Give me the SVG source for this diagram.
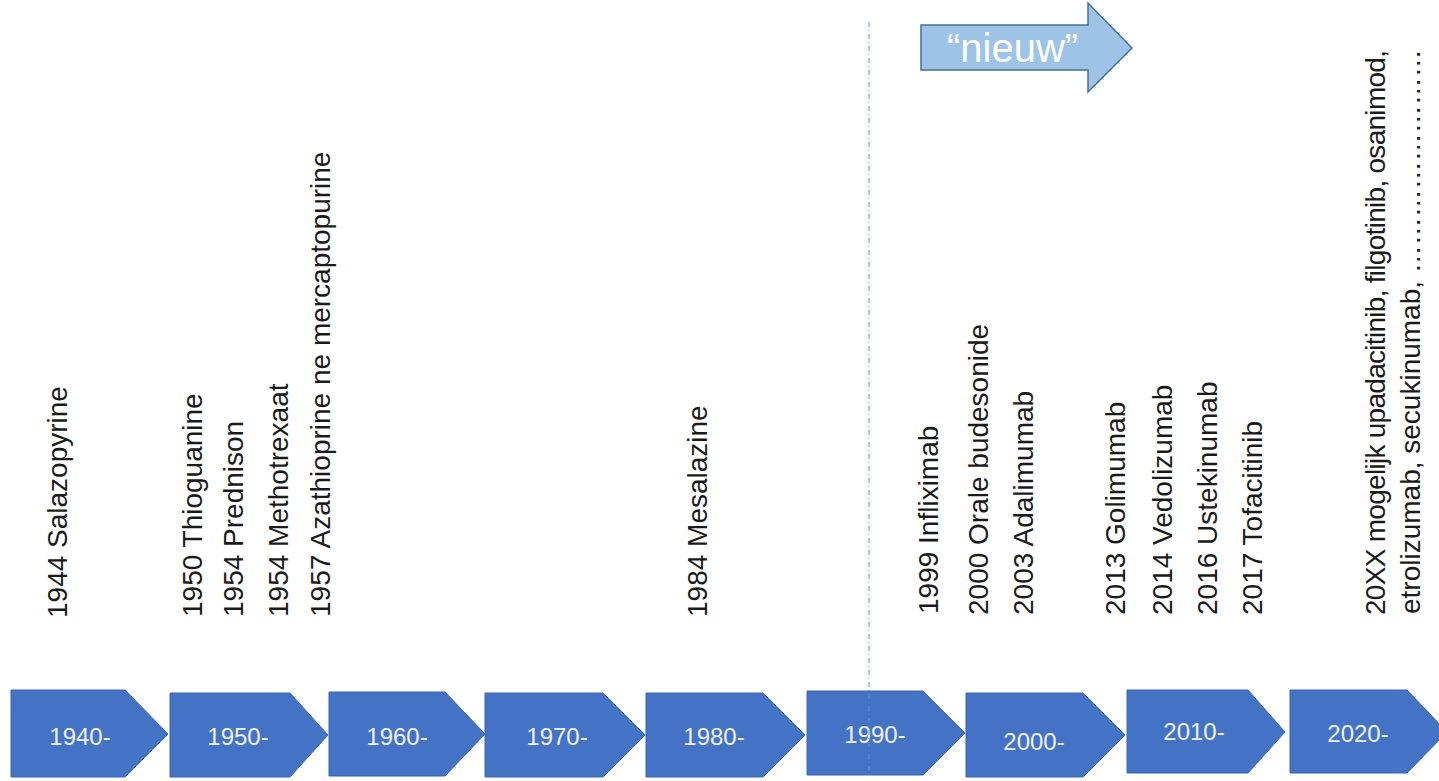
<svg xmlns="http://www.w3.org/2000/svg" width="1439" height="781" viewBox="0 0 1439 781">
<style>
.chev{fill:#4472C4;stroke:#3A64B0;stroke-width:1}
.ctext{font-family:"Liberation Sans",Arial,sans-serif;font-size:24px;fill:#EEF2FA;text-anchor:middle}
.vt{font-family:"Liberation Sans",Arial,sans-serif;font-size:28px;fill:#1a1a1a}
.arrow{fill:#9DC3E6;stroke:#41719C;stroke-width:1.5}
.atext{font-family:"Liberation Sans",Arial,sans-serif;font-size:40px;fill:#FFFFFF}
</style>
<rect width="1439" height="781" fill="#FFFFFF"/>
<g id="decades">
<g id="d1940"><polygon class="chev" points="11,690 125,690 168,734 125,777 11,777"/><text class="ctext" x="80" y="745">1940-</text></g>
<g id="d1950"><polygon class="chev" points="170,693 290,693 328,735 290,777 170,777"/><text class="ctext" x="238" y="745">1950-</text></g>
<g id="d1960"><polygon class="chev" points="329,692 445,692 485,734 445,776 329,776"/><text class="ctext" x="397" y="745">1960-</text></g>
<g id="d1970"><polygon class="chev" points="485,693 603,693 645,735 603,777 485,777"/><text class="ctext" x="557" y="745">1970-</text></g>
<g id="d1980"><polygon class="chev" points="646,693 763,693 805,735 763,777 646,777"/><text class="ctext" x="714" y="745">1980-</text></g>
<g id="d1990"><polygon class="chev" points="807,691 923,691 965,733 923,775 807,775"/><text class="ctext" x="875" y="743">1990-</text></g>
<g id="d2000"><polygon class="chev" points="966,693 1083,693 1125,735 1083,777 966,777"/><text class="ctext" x="1034" y="750">2000-</text></g>
<g id="d2010"><polygon class="chev" points="1127,690 1248,690 1285,732 1248,773 1127,773"/><text class="ctext" x="1194" y="740">2010-</text></g>
<g id="d2020"><polygon class="chev" points="1290,690 1407,690 1447,732 1407,773 1290,773"/><text class="ctext" x="1358" y="742">2020-</text></g>
</g>
<g id="connectors">
<line x1="869" y1="22" x2="869" y2="777" stroke="#5B8FD0" stroke-width="1" stroke-dasharray="5 3 1 3"/>
</g>
<g id="nieuw">
<polygon class="arrow" points="921,25 1088,25 1088,3 1132,48 1088,92 1088,70 921,70"/>
<text class="atext" x="947" y="62">“nieuw”</text>
</g>
<g id="labels">
<g id="l1944"><text class="vt" transform="translate(67,618) rotate(-90)">1944 Salazopyrine</text></g>
<g id="l1950"><text class="vt" transform="translate(202,617) rotate(-90)">1950 Thioguanine</text></g>
<g id="l1954a"><text class="vt" transform="translate(243,617) rotate(-90)">1954 Prednison</text></g>
<g id="l1954b"><text class="vt" transform="translate(288,617) rotate(-90)">1954 Methotrexaat</text></g>
<g id="l1957"><text class="vt" transform="translate(330,617) rotate(-90)">1957 Azathioprine ne mercaptopurine</text></g>
<g id="l1984"><text class="vt" transform="translate(707,617) rotate(-90)">1984 Mesalazine</text></g>
<g id="l1999"><text class="vt" transform="translate(938,614) rotate(-90)">1999 Infliximab</text></g>
<g id="l2000"><text class="vt" transform="translate(988,615) rotate(-90)">2000 Orale budesonide</text></g>
<g id="l2003"><text class="vt" transform="translate(1033,615) rotate(-90)">2003 Adalimumab</text></g>
<g id="l2013"><text class="vt" transform="translate(1125,615) rotate(-90)">2013 Golimumab</text></g>
<g id="l2014"><text class="vt" transform="translate(1172,615) rotate(-90)">2014 Vedolizumab</text></g>
<g id="l2016"><text class="vt" transform="translate(1217,615) rotate(-90)">2016 Ustekinumab</text></g>
<g id="l2017"><text class="vt" transform="translate(1262,615) rotate(-90)">2017 Tofacitinib</text></g>
<g id="l20xx">
<text class="vt" transform="translate(1385,615) rotate(-90)" textLength="565" lengthAdjust="spacing">20XX mogelijk upadacitinib, filgotinib, osanimod,</text>
<text class="vt" transform="translate(1420,614) rotate(-90)">etrolizumab, secukinumab, ……………………</text>
</g>
</g>
</svg>
